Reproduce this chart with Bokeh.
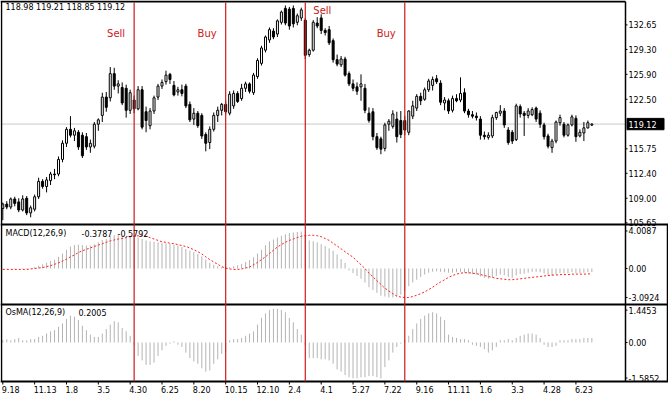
from bokeh.plotting import figure
from bokeh.models import Range1d, ColumnDataSource
from bokeh.core.properties import value
from bokeh.embed import file_html
from bokeh.resources import INLINE

FONT = "DejaVu Sans"

# ---------------- data ----------------
dates = ["9.18", "11.13", "1.8", "3.5", "4.30", "6.25", "8.20", "10.15", "12.10", "2.4",
         "4.1", "5.27", "7.22", "9.16", "11.11", "1.6", "3.3", "4.28", "6.23"]
tick_bars = [0, 8, 16, 24, 32, 40, 48, 56, 64, 72, 80, 88, 96, 104, 112, 120, 128, 136, 144]

opens = [107.6,108.2,107.8,108.9,108.5,107.4,109.0,107.0,107.5,109.2,
         111.3,110.6,111.4,112.3,112.3,114.3,116.5,118.4,117.6,118.0,
         117.6,117.4,116.0,116.1,119.1,120.3,122.8,122.7,126.0,124.3,
         124.1,124.0,121.0,122.4,121.2,123.8,120.8,118.9,120.9,122.8,
         124.3,124.9,125.9,124.4,123.5,123.8,124.3,121.8,119.8,120.6,
         120.3,117.7,116.6,118.4,120.3,121.0,121.8,120.6,121.6,123.3,
         122.6,124.0,124.6,123.4,125.6,127.4,129.2,130.6,131.8,131.4,
         133.0,134.9,134.8,134.9,133.0,133.6,133.3,128.6,129.2,132.9,
         133.6,131.9,132.0,130.5,127.9,127.2,128.0,126.0,124.6,124.2,
         124.2,124.0,120.6,120.8,117.4,117.1,115.8,119.1,118.8,119.8,
         119.6,119.6,118.0,120.2,121.3,122.9,122.5,123.8,124.4,125.3,
         124.7,122.0,122.3,121.0,122.6,122.4,123.4,120.9,120.4,120.2,
         119.8,117.6,117.3,117.5,120.0,120.6,120.9,118.3,118.0,117.0,
         121.5,120.6,120.3,120.4,121.3,120.6,119.0,117.5,115.9,116.8,
         119.3,119.1,117.6,119.0,119.9,117.5,117.9,118.6,118.98]
highs = [108.4,108.6,109.1,109.2,109.0,109.4,109.3,108.0,109.5,111.8,
         111.6,111.9,112.6,113.0,114.7,116.9,118.7,120.2,118.6,118.3,
         118.0,117.9,117.0,119.4,119.9,123.4,123.5,126.9,126.8,125.1,
         124.8,124.5,123.8,123.0,124.3,124.3,121.5,121.3,123.0,124.6,
         125.2,126.4,126.1,125.0,124.2,124.5,124.6,122.2,121.3,120.9,
         120.6,118.0,118.8,120.7,121.5,122.0,122.3,123.6,123.7,123.6,
         124.6,124.9,124.8,126.1,128.1,129.8,131.2,132.3,132.2,133.4,
         134.6,135.3,135.1,135.3,134.2,135.0,133.6,129.4,133.3,133.7,
         134.1,132.2,132.5,130.8,128.6,128.4,128.3,126.3,125.2,124.8,
         125.9,124.6,121.4,121.3,117.9,117.4,119.3,119.8,121.0,120.8,
         120.9,120.2,121.0,122.3,123.2,123.4,124.1,125.3,125.6,125.8,
         125.1,122.8,122.6,123.0,123.2,125.5,124.0,121.2,120.9,120.7,
         120.2,118.1,118.0,120.4,120.8,121.7,121.3,118.7,118.3,121.9,
         121.8,120.9,121.3,121.4,121.5,121.0,119.3,117.8,117.1,119.6,
         120.4,119.4,119.2,120.4,120.3,118.4,119.4,119.6,119.21]
lows = [106.0,107.5,107.5,107.9,107.1,107.2,106.7,106.4,107.2,108.9,
        110.3,109.8,110.8,111.6,112.0,113.9,116.0,117.3,116.8,115.6,
        114.5,115.6,115.2,115.8,118.2,119.4,120.8,122.2,123.8,123.3,
        121.7,120.0,120.5,120.6,121.0,118.4,118.0,118.4,120.5,122.4,
        123.9,124.5,124.6,122.9,123.0,122.9,121.3,119.4,119.0,118.6,
        117.1,115.4,115.7,118.1,119.4,120.3,120.4,120.3,121.2,122.0,
        122.3,123.5,123.3,123.1,125.3,127.1,128.9,130.2,130.7,131.0,
        132.7,132.6,132.0,132.3,132.6,133.2,128.0,128.3,129.0,132.2,
        131.4,131.2,129.9,127.5,127.0,126.9,125.6,124.3,123.6,123.1,
        122.3,120.6,119.3,116.9,115.6,115.0,115.4,118.2,118.5,116.6,
        117.2,117.6,117.6,119.8,120.9,121.7,122.3,123.5,123.7,124.6,
        121.7,121.0,120.5,120.7,122.1,122.1,120.6,120.0,119.9,119.6,
        117.0,117.0,117.0,117.2,119.7,120.2,118.6,116.3,116.4,116.8,
        120.0,117.5,119.9,120.2,119.4,118.6,117.0,115.8,115.2,116.5,
        118.9,117.3,117.4,118.8,116.7,117.3,116.8,118.5,118.85]
closes = [108.2,107.8,108.9,108.3,107.4,108.9,107.0,107.7,109.2,111.3,
          110.6,111.5,112.3,112.2,114.3,116.5,118.4,117.6,118.2,116.0,
          114.8,116.0,116.5,119.1,119.7,122.8,121.4,126.0,124.3,124.6,
          122.0,121.0,123.4,121.2,123.8,118.7,119.6,120.9,122.7,124.3,
          124.8,125.8,125.2,123.1,123.8,123.3,121.6,119.7,120.6,118.9,
          117.5,116.5,118.4,120.3,121.0,121.8,120.8,123.2,123.3,122.2,
          124.0,124.6,123.6,125.8,127.8,129.5,131.0,132.0,131.0,133.2,
          134.4,132.9,132.5,132.8,133.9,134.7,128.5,129.2,133.0,132.5,
          131.9,131.6,130.2,127.9,127.3,128.0,125.8,124.6,124.0,123.6,
          124.6,121.0,119.6,117.4,115.9,115.7,119.0,119.5,120.5,117.4,
          117.7,118.3,120.9,121.6,122.9,122.3,123.8,125.0,125.2,124.9,
          122.1,122.4,120.9,122.6,122.3,123.3,120.9,120.4,120.2,120.0,
          117.6,117.4,117.6,120.0,120.7,120.9,119.0,116.6,116.8,121.6,
          120.5,120.3,120.9,121.1,119.8,119.1,117.4,116.1,116.8,119.4,
          120.0,117.6,119.0,120.1,117.4,118.0,118.6,119.3,119.12]

macd = [-0.05,-0.05,0.0,-0.05,0.0,0.05,0.05,0.05,0.15,0.3,
        0.45,0.6,0.8,0.95,1.25,1.6,2.0,2.35,2.5,2.55,
        2.5,2.45,2.45,2.6,2.8,3.05,3.15,3.45,3.55,3.6,
        3.5,3.4,3.45,3.3,3.3,3.15,3.0,2.9,2.85,2.8,
        2.75,2.7,2.65,2.55,2.45,2.3,2.1,1.9,1.75,1.55,
        1.3,0.95,0.6,0.4,0.25,0.15,0.1,0.15,0.25,0.35,
        0.5,0.7,0.9,1.2,1.6,2.0,2.5,2.9,3.1,3.3,
        3.5,3.65,3.8,3.85,3.9,3.95,3.5,3.0,2.9,2.8,
        2.6,2.4,2.15,1.9,1.5,1.0,0.6,-0.2,-0.5,-0.8,
        -1.1,-1.5,-2.0,-2.3,-2.6,-2.9,-3.0,-3.1,-3.1,-3.0,
        -2.8,-2.4,-1.9,-1.5,-1.2,-0.9,-0.65,-0.45,-0.35,-0.3,
        -0.35,-0.4,-0.45,-0.45,-0.4,-0.35,-0.45,-0.55,-0.6,-0.65,
        -0.85,-1.0,-1.1,-0.95,-0.8,-0.65,-0.7,-0.9,-1.0,-0.75,
        -0.6,-0.55,-0.45,-0.35,-0.35,-0.4,-0.55,-0.75,-0.8,-0.65,
        -0.5,-0.55,-0.5,-0.4,-0.5,-0.5,-0.45,-0.4,-0.3787]
signal = [-0.1,-0.1,-0.1,-0.1,-0.1,-0.1,-0.1,-0.05,0.0,0.05,
          0.1,0.2,0.3,0.45,0.6,0.8,1.0,1.25,1.45,1.7,
          1.9,2.05,2.2,2.35,2.5,2.65,2.8,2.95,3.05,3.15,
          3.2,3.3,3.4,3.45,3.5,3.5,3.45,3.3,3.15,3.0,
          2.85,2.8,2.7,2.65,2.55,2.45,2.35,2.2,2.0,1.8,
          1.55,1.25,0.95,0.7,0.45,0.2,0.05,-0.05,-0.1,-0.1,
          -0.05,0.05,0.15,0.4,0.65,0.95,1.25,1.6,1.95,2.3,
          2.55,2.8,3.0,3.15,3.3,3.45,3.5,3.55,3.55,3.5,
          3.4,3.2,3.0,2.7,2.4,2.1,1.8,1.5,1.2,0.8,
          0.4,0.0,-0.5,-0.9,-1.3,-1.7,-2.1,-2.4,-2.7,-2.95,
          -3.05,-3.1,-3.1,-3.0,-2.85,-2.7,-2.5,-2.25,-2.0,-1.7,
          -1.45,-1.2,-0.95,-0.75,-0.6,-0.5,-0.45,-0.45,-0.5,-0.55,
          -0.65,-0.75,-0.85,-0.95,-1.05,-1.1,-1.15,-1.2,-1.2,-1.15,
          -1.1,-1.05,-1.0,-0.95,-0.9,-0.85,-0.8,-0.75,-0.7,-0.7,
          -0.65,-0.65,-0.65,-0.6,-0.6,-0.6,-0.6,-0.58,-0.5792]
osma = [0.1,0.15,0.1,0.15,0.2,0.1,0.1,0.15,0.15,0.25,
        0.3,0.4,0.5,0.55,0.7,0.85,1.05,1.2,1.15,1.0,
        0.75,0.55,0.35,0.25,0.25,0.4,0.6,0.8,0.95,0.9,
        0.65,0.5,0.3,-0.1,-0.6,-0.8,-1.0,-1.0,-0.9,-0.6,
        -0.35,-0.15,-0.05,0.05,-0.1,-0.2,-0.45,-0.7,-0.85,-0.95,
        -1.15,-1.3,-1.25,-0.95,-0.75,-0.5,-0.4,0.1,0.15,0.15,
        0.2,0.3,0.4,0.5,0.8,1.1,1.3,1.45,1.5,1.5,
        1.45,1.35,1.1,0.9,0.6,0.35,-0.1,-0.7,-0.7,-0.7,
        -0.75,-0.75,-0.8,-0.95,-1.2,-1.3,-1.45,-1.55,-1.6,-1.6,
        -1.55,-1.55,-1.5,-1.5,-1.55,-1.6,-1.1,-0.8,-0.45,-0.2,
        -0.05,0.1,0.3,0.6,0.85,1.05,1.2,1.3,1.35,1.3,
        1.15,1.0,0.35,0.25,0.2,0.15,0.15,0.1,-0.1,-0.15,
        -0.2,-0.3,-0.45,-0.35,-0.2,0.1,0.1,0.15,0.1,0.2,
        0.3,0.35,0.4,0.4,0.35,0.2,-0.1,-0.2,-0.2,-0.15,
        0.1,0.1,0.1,0.15,0.15,0.15,0.2,0.2,0.2005]

price_ticks = [105.65, 109.00, 112.40, 115.75, 122.50, 125.90, 129.30, 132.65]
price_labels = ["105.65", "109.00", "112.40", "115.75", "122.50", "125.90", "129.30", "132.65"]
macd_ticks = [4.0087, 0.0, -3.0924]
macd_labels = ["4.0087", "0.00", "-3.0924"]
osma_ticks = [1.4453, 0.0, -1.5852]
osma_labels = ["1.4453", "0.00", "-1.5852"]
sell_bars = [33, 76]
buy_bars = [56, 101]
last_ohlc = ["118.98", "119.21", "118.85", "119.12"]

# ---------------- geometry / style ----------------
W, H = 668, 397
BAR_PX = 3.98          # pixels per weekly bar
X0_PX = 2.3            # pixel of bar 0
RIGHT = 625            # price-scale line
SEP1, SEP2, BOTTOM = 224, 304, 381


def panel_range(zero_px, px_per_unit, base=0.0):
    # value range covering the whole canvas height for one panel
    return Range1d(base + (zero_px - H) / px_per_unit, base + zero_px / px_per_unit)


RED_LINE = "#d01818"
RED_TEXT = "#cc2020"
HIST = "#b4b4b4"
F8 = value("8px")

p = figure(width=W, height=H, output_backend="svg", toolbar_location=None,
           x_range=Range1d(-X0_PX / BAR_PX, (W - X0_PX) / BAR_PX),
           y_range=panel_range(222.3, 7.33, base=105.65),
           x_axis_location=None, y_axis_location=None,
           min_border=0, min_border_left=0, min_border_right=0,
           min_border_top=0, min_border_bottom=0,
           background_fill_color="white", border_fill_color="white",
           outline_line_color=None)
p.xgrid.visible = False
p.ygrid.visible = False
p.extra_x_ranges = {"px": Range1d(0, W)}
p.extra_y_ranges = {"py": Range1d(H, 0),
                    "macd": panel_range(268.0, 9.36),
                    "osma": panel_range(342.0, 22.4)}

n = len(closes)
idx = list(range(n))

# current price line
p.segment(x0=[0], x1=[RIGHT], y0=[closes[-1]], y1=[closes[-1]], x_range_name="px",
          line_color="#c8c8c8", line_width=1)

# candles
src = ColumnDataSource(dict(
    x=idx, h=highs, l=lows,
    top=[max(a, b) for a, b in zip(opens, closes)],
    bot=[min(a, b) for a, b in zip(opens, closes)],
    fill=["white" if c >= o else "black" for o, c in zip(opens, closes)],
))
p.segment(x0="x", y0="l", x1="x", y1="h", source=src, line_color="black", line_width=1)
p.vbar(x="x", width=0.5, top="top", bottom="bot", source=src,
       fill_color="fill", line_color="black", line_width=1)

# MACD
p.segment(x0=idx, y0=[0] * n, x1=idx, y1=macd, y_range_name="macd",
          line_color=HIST, line_width=1)
p.line(idx, signal, y_range_name="macd", line_color="#ff2020", line_width=1, line_dash="2 2")

# OsMA
p.segment(x0=idx, y0=[0] * n, x1=idx, y1=osma, y_range_name="osma",
          line_color=HIST, line_width=1)

# panel borders (layout)
p.segment(x0=[0, 0, 0, 0], x1=[RIGHT, W, W, W], y0=[1, SEP1, SEP2, BOTTOM],
          y1=[1, SEP1, SEP2, BOTTOM], x_range_name="px", y_range_name="py",
          line_color="black", line_width=2)
p.segment(x0=[1, RIGHT, W - 1], x1=[1, RIGHT, W - 1], y0=[1, 1, SEP1], y1=[BOTTOM, BOTTOM, BOTTOM],
          x_range_name="px", y_range_name="py", line_color="black", line_width=1.5)

# signal lines (drawn on top)
sig = sell_bars + buy_bars
p.segment(x0=sig, x1=sig, y0=[2] * 4, y1=[BOTTOM] * 4, y_range_name="py",
          line_color=RED_LINE, line_width=1.2)


def right_axis(ticks, labels, rng):
    p.segment(x0=[RIGHT] * len(ticks), x1=[RIGHT + 2] * len(ticks), y0=ticks, y1=ticks,
              x_range_name="px", y_range_name=rng, line_color="black", line_width=1)
    p.text(x=[RIGHT + 3] * len(ticks), y=ticks, text=labels, x_range_name="px",
           y_range_name=rng, text_font=value(FONT), text_font_size=F8, text_color="black",
           text_align=value("left"), text_baseline=value("middle"))


right_axis(price_ticks, price_labels, "default")
right_axis(macd_ticks, macd_labels, "macd")
right_axis(osma_ticks, osma_labels, "osma")

# current price box
p.rect(x=[645], y=[closes[-1]], width=37, height=1.55, x_range_name="px",
       fill_color="black", line_color="black")
p.text(x=[RIGHT + 3], y=[closes[-1]], text=["%.2f" % closes[-1]], x_range_name="px",
       text_font=value(FONT), text_font_size=F8, text_color="white",
       text_align=value("left"), text_baseline=value("middle"))

# x axis ticks and labels
p.segment(x0=tick_bars, x1=tick_bars, y0=[BOTTOM] * len(tick_bars),
          y1=[BOTTOM + 3] * len(tick_bars), y_range_name="py", line_color="black", line_width=1)
p.text(x=tick_bars, y=[389] * len(tick_bars), text=dates, y_range_name="py", x_offset=-1,
       text_font=value(FONT), text_font_size=F8, text_color="black",
       text_align=value("left"), text_baseline=value("middle"))

# panel captions
p.text(x=[5], y=[7], text=[" ".join(last_ohlc)], x_range_name="px", y_range_name="py",
       text_font=value(FONT), text_font_size=F8, text_color="black",
       text_baseline=value("middle"))
p.text(x=[5, 81, 117], y=[233] * 3,
       text=["MACD(12,26,9)", "%.4f" % macd[-1], "%.4f" % signal[-1]],
       x_range_name="px", y_range_name="py", text_font=value(FONT), text_font_size=F8,
       text_color="black", text_baseline=value("middle"))
p.text(x=[5, 78], y=[312] * 2, text=["OsMA(12,26,9)", "%.4f" % osma[-1]],
       x_range_name="px", y_range_name="py", text_font=value(FONT), text_font_size=F8,
       text_color="black", text_baseline=value("middle"))

# Sell / Buy captions next to the lines
p.text(x=[sell_bars[0], buy_bars[0], buy_bars[1]], y=[33, 33, 33], text=["Sell", "Buy", "Buy"],
       x_offset=-9, y_range_name="py", text_font=value(FONT), text_font_size=value("10px"),
       text_color=RED_TEXT, text_align=value("right"), text_baseline=value("middle"))
p.text(x=[sell_bars[1]], y=[10], text=["Sell"], x_offset=8, y_range_name="py",
       text_font=value(FONT), text_font_size=value("10px"), text_color=RED_TEXT,
       text_align=value("left"), text_baseline=value("middle"))

open("out.html", "w").write(file_html(p, INLINE))
